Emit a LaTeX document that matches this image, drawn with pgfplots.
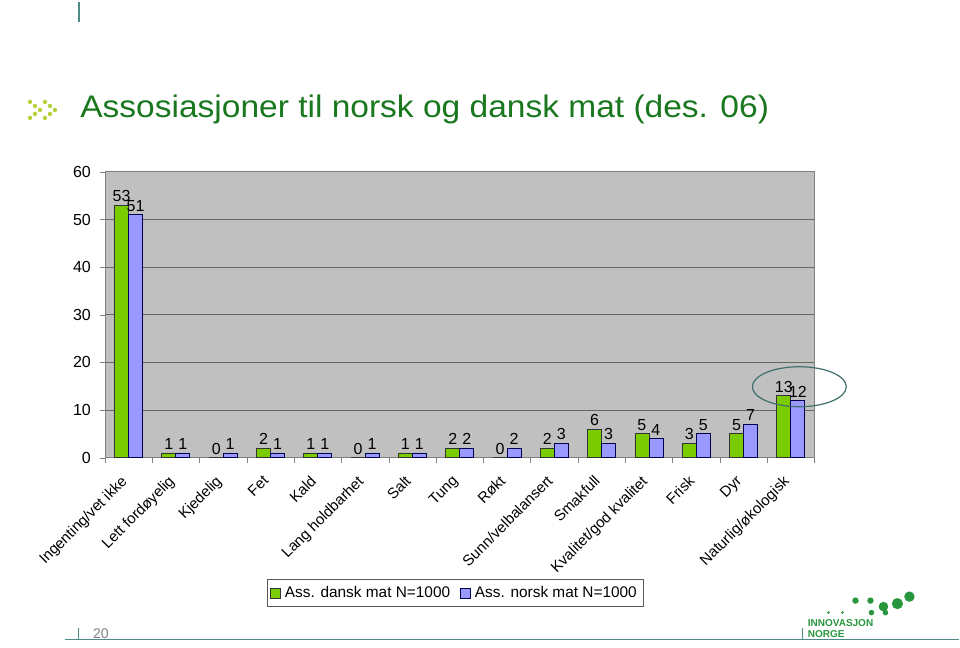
\documentclass[border=0pt]{standalone}
\usepackage{fontspec}
\setmainfont{Liberation Sans}
\usepackage{pgfplots}
\pgfplotsset{compat=1.18}
\usepackage{pgfplotstable}

\definecolor{dansk}{RGB}{122,204,0}
\definecolor{norsk}{RGB}{153,153,255}
\definecolor{plotbg}{RGB}{192,192,192}
\definecolor{titlegreen}{RGB}{25,120,30}
\definecolor{teal}{RGB}{80,140,135}
\definecolor{chev}{RGB}{180,210,60}
\definecolor{logo}{RGB}{40,150,60}

% idx, dansk, norsk
\pgfplotstableread{
idx dansk norsk
0 53 51
1 1 1
2 0 1
3 2 1
4 1 1
5 0 1
6 1 1
7 2 2
8 0 2
9 2 3
10 6 3
11 5 4
12 3 5
13 5 7
14 13 12
}\assdata

\begin{document}
\begin{tikzpicture}
% page frame, 1px = 0.5pt
\path (0,0) rectangle (480pt,324pt);

% slide decoration
\draw[teal, line width=0.8pt] (39.5pt,323pt) -- (39.5pt,313pt);
\draw[teal, line width=0.6pt] (32.5pt,4pt) -- (480pt,4pt);
\draw[teal, line width=0.5pt] (39.5pt,4pt) -- (39.5pt,10pt);
\draw[teal, line width=0.5pt] (401.5pt,4pt) -- (401.5pt,10pt);
\node[anchor=west, text=gray, font=\fontsize{7}{8}\selectfont] at (43pt,7pt) {20};
\node[anchor=west, text=logo, font=\bfseries\fontsize{5}{5.5}\selectfont, align=left, inner sep=0pt]
  at (404pt,9.5pt) {INNOVASJON\\NORGE};
\foreach \px/\py/\r in {856/601/1.6,871/601/1.6,884/607/2.4,898/604/2.8,872/613/1.4,886/613/1.4,910/597/2.6,843/613/0.7,829/613/0.7}
  \fill[logo] (\px*0.5pt, 324pt-\py*0.5pt) circle (\r pt);

% title with chevron icon
\foreach \dx in {0,15}{
  \foreach \px/\py in {30/102,35/106,40/110,35/114,30/118}
    \fill[chev] ({(\px+\dx)*0.5pt}, {324pt-\py*0.5pt}) circle (1.1pt);
}
\node[anchor=west, text=titlegreen, inner sep=0pt] at (40pt,269pt)
  {\scalebox{1.29}[1.2]{\fontsize{13}{15}\selectfont Assosiasjoner til norsk og dansk mat (des. 06)}};

\begin{axis}[
    at={(52.5pt,95pt)}, anchor=south west,
    scale only axis,
    width=355pt, height=143pt,
    ybar=0pt,
    bar width=7pt,
    xmin=-0.5, xmax=14.5,
    ymin=0, ymax=60,
    ytick={0,10,...,60},
    xtick={0,...,14},
    xticklabels={Ingenting/vet ikke,Lett fordøyelig,Kjedelig,Fet,Kald,Lang holdbarhet,Salt,Tung,Røkt,Sunn/velbalansert,Smakfull,Kvalitet/god kvalitet,Frisk,Dyr,Naturlig/økologisk},
    minor xtick={-0.5,0.5,...,14.5},
    tick pos=left,
    major x tick style={draw=none},
    minor x tick style={gray},
    y tick style={gray},
    tick align=outside,
    major tick length=2.5pt,
    minor tick length=2.5pt,
    axis background/.style={fill=plotbg},
    axis line style={gray},
    ymajorgrids,
    grid style={gray!80!black, line width=0.4pt},
    tick label style={font=\fontsize{8}{9}\selectfont},
    yticklabel style={xshift=-1pt},
    xticklabel style={rotate=45, anchor=north east, inner sep=1pt, xshift=-6pt, yshift=0pt,
      font=\fontsize{7.5}{9}\selectfont},
    /pgf/number format/assume math mode=true,
    nodes near coords,
    every node near coord/.append style={font=\fontsize{8}{9}\selectfont, black, inner sep=1.5pt},
    legend columns=2,
    legend style={at={(0.494,-0.474)}, anchor=center, draw=gray!70!black,
      font=\fontsize{7.7}{9}\selectfont, inner sep=1.3pt,
      /tikz/every even column/.append style={column sep=3pt}},
    legend image code/.code={\draw[#1] (0pt,-2.5pt) rectangle (5pt,2.5pt);},
    clip=false,
]
\addplot[fill=dansk, draw=black!80, line width=0.4pt] table[x=idx, y=dansk] {\assdata};
\addplot[fill=norsk, draw=black!70!blue, line width=0.4pt] table[x=idx, y=norsk] {\assdata};
\legend{Ass. dansk mat N=1000, Ass. norsk mat N=1000}
\draw[teal!80!black, line width=0.6pt] (axis cs:14.18,14.9) ellipse [x radius=23.5pt, y radius=10pt];
\end{axis}
\end{tikzpicture}
\end{document}
